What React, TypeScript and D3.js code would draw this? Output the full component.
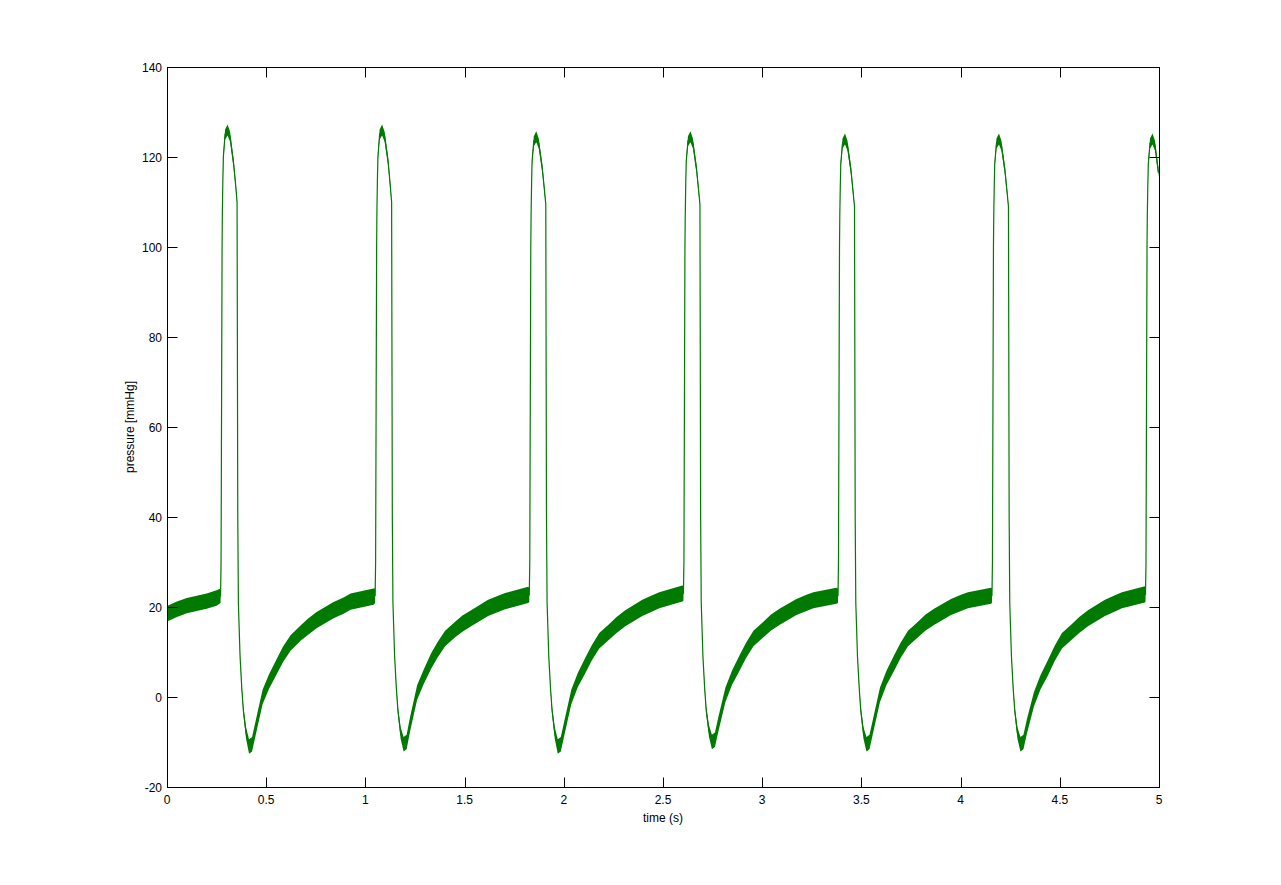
import { useEffect, useRef } from "react";
import * as d3 from "d3";

// beat onsets (s), read from the upstrokes
const beatOnsets = [0.27, 1.049, 1.826, 2.603, 3.382, 4.158, 4.932];

// time after onset (s) for each sample of a beat
const phase = [
  0, 0.0025, 0.0076, 0.0091, 0.0116, 0.0141, 0.0227, 0.0353, 0.0479, 0.0655,
  0.0756, 0.0832, 0.0847, 0.0867, 0.0897, 0.0983, 0.1069, 0.1149, 0.1285,
  0.1436, 0.1588, 0.1764, 0.2117, 0.245, 0.2823, 0.315, 0.3528, 0.4032, 0.44,
  0.4839, 0.5696, 0.62, 0.6552, 0.7712,
];

// pressure (mmHg) per beat at the phase times above
const beatPressures = [
  [22.5, 30, 100, 108, 115, 120, 125, 126, 124.5, 118.6, 114, 110, 80, 40, 21, 9, 2, -3, -8, -11, -10.5, -7, 0, 3.5, 6.7, 9.5, 12, 14.2, 15.6, 17.1, 19.3, 20.3, 21.2, 22.3],
  [22.5, 30, 100, 108, 115, 120, 125, 126, 124.5, 119, 114, 110, 80, 40, 21, 9, 2, -3, -8, -10.5, -10, -6, 1, 4.5, 8, 10.5, 13, 15, 16.3, 17.5, 19.8, 20.7, 21.3, 22.7],
  [22.7, 30, 100, 107, 114, 119, 123.5, 124.5, 123, 117.5, 113, 109.5, 80, 40, 21, 9, 2, -3, -8, -11, -10.5, -7, 0, 3.8, 7, 9.8, 12.5, 14.5, 16, 17.5, 19.8, 20.8, 21.5, 23],
  [23, 30, 100, 107, 114, 119, 123.5, 124.5, 123, 117.5, 113, 109.5, 80, 40, 21, 9, 2, -3, -7.5, -10, -9.5, -6, 0.5, 4.3, 7.5, 10.3, 13, 15, 16.5, 17.8, 20, 20.9, 21.5, 22.5],
  [22.5, 30, 100, 107, 113.5, 118.5, 123, 124, 122.5, 117, 112.5, 109, 80, 40, 21, 9, 2, -3, -8, -10.5, -10, -6.5, 0.5, 4.3, 7.5, 10.3, 13, 15, 16.5, 17.8, 20, 20.9, 21.5, 22.5],
  [22.5, 30, 100, 107, 113.5, 118.5, 123, 124, 122.5, 117, 112.5, 109, 80, 40, 21, 9, 2, -3, -8, -10.5, -10, -6.5, -0.5, 3.3, 6.5, 9.6, 12.5, 14.5, 16, 17.5, 19.8, 20.8, 21.5, 22.8],
  [22.8, 30, 100, 107, 113.5, 118.5, 123, 124, 122.5, 116.5],
];

// half-width of the noise band (mmHg) at each phase sample
const noiseSpread = [
  1.6, 0, 0, 0, 0.3, 0.8, 1.1, 1.2, 1.1, 1, 0.8, 0.3, 0, 0, 0, 0.2, 0.5, 0.9,
  1.3, 1.6, 1.6, 1.6, 1.6, 1.6, 1.7, 1.7, 1.7, 1.7, 1.8, 1.8, 1.8, 1.8, 1.8, 1.8,
];

// the diastolic stretch before the first beat
const leadTimes = [0, 0.05, 0.1, 0.15, 0.2, 0.25];
const leadPressures = [18.5, 19.5, 20.3, 20.8, 21.3, 22];

const xTicks = [0, 0.5, 1, 1.5, 2, 2.5, 3, 3.5, 4, 4.5, 5];
const yTicks = [-20, 0, 20, 40, 60, 80, 100, 120, 140];

type Sample = { t: number; p: number; s: number };

const App = () => {
  const ref = useRef<SVGSVGElement>(null);

  useEffect(() => {
    const svg = d3.select(ref.current);
    svg.selectAll("*").remove();

    const LEFT = 167;
    const RIGHT = 1159;
    const TOP = 67;
    const BOTTOM = 787;
    const TICK = 10;
    const font = "'Liberation Sans', Arial, sans-serif";
    const green = "#007a00";

    const x = d3.scaleLinear().domain([0, 5]).range([LEFT, RIGHT]);
    const y = d3.scaleLinear().domain([-20, 140]).range([BOTTOM, TOP]);

    // build the sample table
    const samples: Sample[] = leadTimes.map((t, i) => ({ t, p: leadPressures[i], s: 1.7 }));
    beatOnsets.forEach((onset, b) => {
      beatPressures[b].forEach((p, i) => {
        samples.push({ t: onset + phase[i], p, s: noiseSpread[i] });
      });
    });

    svg.append("defs")
      .append("clipPath")
      .attr("id", "plot-clip")
      .append("rect")
      .attr("x", LEFT)
      .attr("y", TOP)
      .attr("width", RIGHT - LEFT)
      .attr("height", BOTTOM - TOP);

    const plot = svg.append("g").attr("clip-path", "url(#plot-clip)");

    const band = d3
      .area<Sample>()
      .x((d) => x(d.t))
      .y0((d) => y(d.p - d.s))
      .y1((d) => y(d.p + d.s));

    plot.append("path")
      .datum(samples)
      .attr("d", band)
      .attr("fill", green);

    const line = d3
      .line<Sample>()
      .x((d) => x(d.t))
      .y((d) => y(d.p));

    plot.append("path")
      .datum(samples)
      .attr("d", line)
      .attr("fill", "none")
      .attr("stroke", green)
      .attr("stroke-width", 1.2);

    // box and ticks (MATLAB style, ticks inside on all four sides)
    const axes = svg.append("g").attr("transform", "translate(0.5,0.5)");
    axes.append("rect")
      .attr("x", LEFT)
      .attr("y", TOP)
      .attr("width", RIGHT - LEFT)
      .attr("height", BOTTOM - TOP)
      .attr("fill", "none")
      .attr("stroke", "#000");

    xTicks.forEach((t) => {
      const px = Math.round(x(t));
      axes.append("line").attr("x1", px).attr("x2", px).attr("y1", BOTTOM).attr("y2", BOTTOM - TICK).attr("stroke", "#000");
      axes.append("line").attr("x1", px).attr("x2", px).attr("y1", TOP).attr("y2", TOP + TICK).attr("stroke", "#000");
      svg.append("text")
        .attr("x", x(t))
        .attr("y", BOTTOM + 17)
        .attr("text-anchor", "middle")
        .attr("font-family", font)
        .attr("font-size", "12px")
        .text(String(t));
    });

    yTicks.forEach((v) => {
      const py = Math.round(y(v));
      axes.append("line").attr("x1", LEFT).attr("x2", LEFT + TICK).attr("y1", py).attr("y2", py).attr("stroke", "#000");
      axes.append("line").attr("x1", RIGHT).attr("x2", RIGHT - TICK).attr("y1", py).attr("y2", py).attr("stroke", "#000");
      svg.append("text")
        .attr("x", LEFT - 5)
        .attr("y", y(v) + 4.5)
        .attr("text-anchor", "end")
        .attr("font-family", font)
        .attr("font-size", "12px")
        .text(String(v));
    });

    // axis labels
    svg.append("text")
      .attr("x", (LEFT + RIGHT) / 2)
      .attr("y", BOTTOM + 35)
      .attr("text-anchor", "middle")
      .attr("font-family", font)
      .attr("font-size", "12px")
      .text("time (s)");

    svg.append("text")
      .attr("transform", `translate(134, ${(TOP + BOTTOM) / 2}) rotate(-90)`)
      .attr("text-anchor", "middle")
      .attr("font-family", font)
      .attr("font-size", "12px")
      .text("pressure [mmHg]");
  }, []);

  return (
    <svg
      ref={ref}
      width={1281}
      height={885}
      style={{ position: "absolute", left: 0, top: 0, background: "#fff" }}
    />
  );
};

export default App;
